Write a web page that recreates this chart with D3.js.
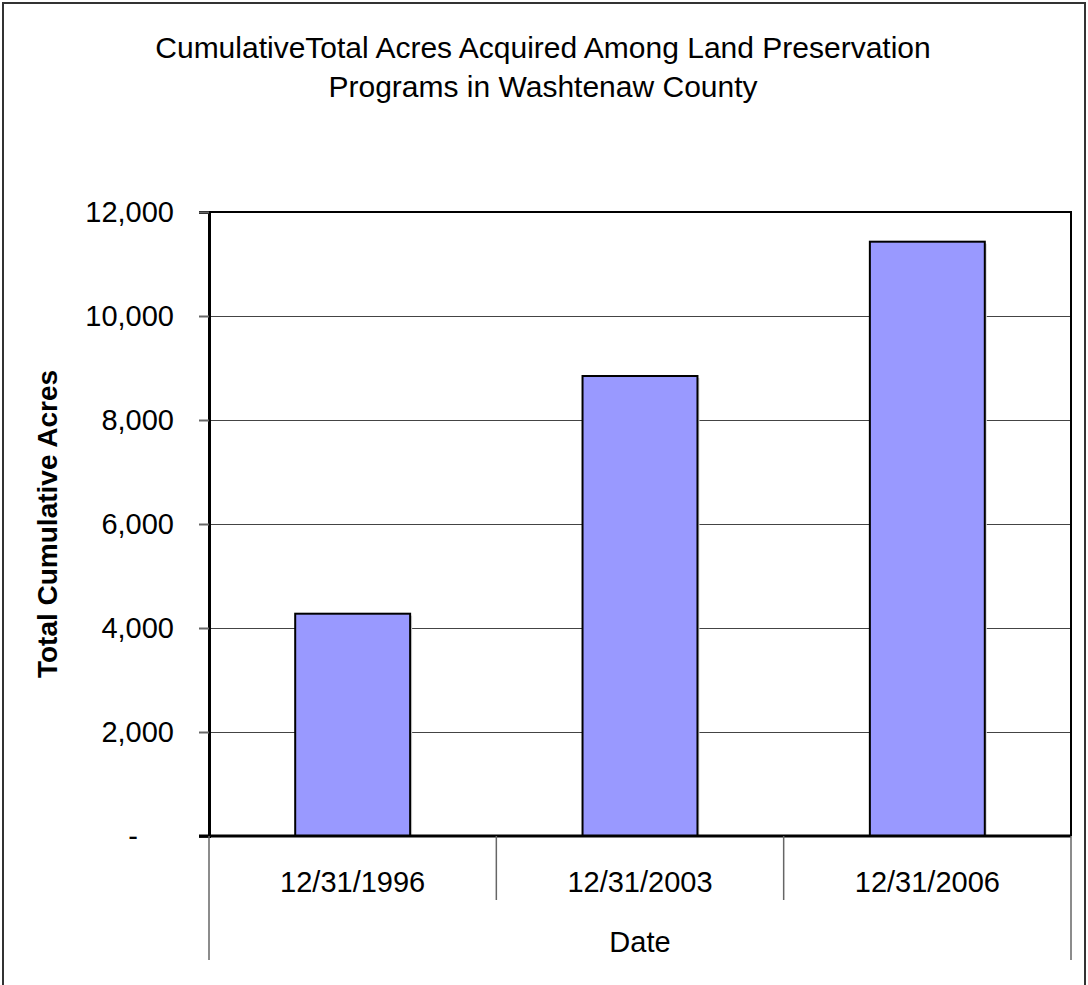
<!DOCTYPE html>
<head>
<meta charset="utf-8">
<title>Cumulative Total Acres</title>
<script src="https://d3js.org/d3.v7.min.js"></script>
<style>
  body { margin: 0; background: #fff; }
  text { font-family: "Liberation Sans", Arial, sans-serif; fill: #000; }
</style>
</head>
<body>
<div id="vis-canvas"></div>
<script>
// ---- data ----
const dates = ["12/31/1996", "12/31/2003", "12/31/2006"];
const acres = [4275, 8846, 11429];
const yTicks = [0, 2000, 4000, 6000, 8000, 10000, 12000];
const titleLines = ["CumulativeTotal Acres Acquired Among Land Preservation",
                    "Programs in Washtenaw County"];

// ---- canvas ----
const W = 1088, H = 985;
const margin = {top: 212, right: 17, bottom: 149, left: 209};
const width = W - margin.left - margin.right,
      height = H - margin.top - margin.bottom;
const fs = "29px";

const svg = d3.select("#vis-canvas").append("svg")
    .attr("width", W)
    .attr("height", H);

// outer chart frame
svg.append("rect")
    .attr("x", 3).attr("y", 3)
    .attr("width", W - 6).attr("height", H + 20)
    .attr("fill", "none")
    .attr("stroke", "#333")
    .attr("stroke-width", 2);

// title
svg.append("g").selectAll("text")
    .data(titleLines)
    .enter().append("text")
    .attr("x", 543)
    .attr("y", (d, i) => 58 + i * 39)
    .attr("text-anchor", "middle")
    .style("font-size", "30px")
    .text(d => d);

const g = svg.append("g")
    .attr("transform", "translate(" + margin.left + "," + margin.top + ")");

// scales
const x = d3.scaleBand().domain(dates).range([0, width])
    .paddingInner(0.6).paddingOuter(0.3);
const xStep = width / dates.length;
const y = d3.scaleLinear().domain([0, 12000]).range([height, 0]);

// gridlines
g.append("g")
    .selectAll("line")
    .data(yTicks.slice(1, -1))
    .enter().append("line")
    .attr("x1", 0).attr("x2", width)
    .attr("y1", d => Math.round(y(d)) + 0.5).attr("y2", d => Math.round(y(d)) + 0.5)
    .attr("stroke", "#444")
    .attr("stroke-width", 1);

// plot area border (top / right)
g.append("path")
    .attr("d", "M0," + y(12000) + "H" + width + "V" + height)
    .attr("fill", "none")
    .attr("stroke", "#000")
    .attr("stroke-width", 2);

// bar shadows
g.append("g")
    .selectAll("rect")
    .data(acres)
    .enter().append("rect")
    .attr("x", (d, i) => x(dates[i]) + 2)
    .attr("y", d => y(d) + 2)
    .attr("width", x.bandwidth())
    .attr("height", d => height - y(d) - 2)
    .attr("fill", "#d8d8d8");

// bars
g.append("g")
    .selectAll("rect")
    .data(acres)
    .enter().append("rect")
    .attr("x", (d, i) => x(dates[i]))
    .attr("y", d => y(d))
    .attr("width", x.bandwidth())
    .attr("height", d => height - y(d))
    .attr("fill", "#9999ff")
    .attr("stroke", "#000")
    .attr("stroke-width", 2);

// y axis
const yaxis = d3.axisLeft(y)
    .tickValues(yTicks)
    .tickSize(10)
    .tickPadding(25)
    .tickFormat(d => d === 0 ? "-" : d3.format(",")(d));

const ya = g.append("g").call(yaxis);
ya.select(".domain").attr("stroke", "#000").attr("stroke-width", 3);
ya.selectAll(".tick line").attr("stroke", "#666").attr("stroke-width", 2);
ya.selectAll(".tick text")
    .style("font-size", fs)
    .attr("font-family", null)
    .attr("dx", d => d === 0 ? -36 : 0);

// x axis baseline
g.append("line")
    .attr("x1", -10).attr("x2", width)
    .attr("y1", height).attr("y2", height)
    .attr("stroke", "#000")
    .attr("stroke-width", 3);

// category separators
g.append("g")
    .selectAll("line")
    .data(d3.range(dates.length + 1))
    .enter().append("line")
    .attr("x1", i => i * xStep).attr("x2", i => i * xStep)
    .attr("y1", height)
    .attr("y2", i => (i === 0 || i === dates.length) ? height + 124 : height + 64)
    .attr("stroke", "#666")
    .attr("stroke-width", 1.5);

// category labels
g.append("g")
    .selectAll("text")
    .data(dates)
    .enter().append("text")
    .attr("x", d => x(d) + x.bandwidth() / 2)
    .attr("y", height + 56)
    .attr("text-anchor", "middle")
    .style("font-size", fs)
    .text(d => d);

// x axis title
g.append("text")
    .attr("x", width / 2)
    .attr("y", height + 116)
    .attr("text-anchor", "middle")
    .style("font-size", fs)
    .text("Date");

// y axis title
svg.append("text")
    .attr("transform", "translate(57," + (margin.top + height / 2) + ") rotate(-90)")
    .attr("text-anchor", "middle")
    .style("font-size", "28px")
    .style("font-weight", "bold")
    .text("Total Cumulative Acres");
</script>
</div>
</body>
